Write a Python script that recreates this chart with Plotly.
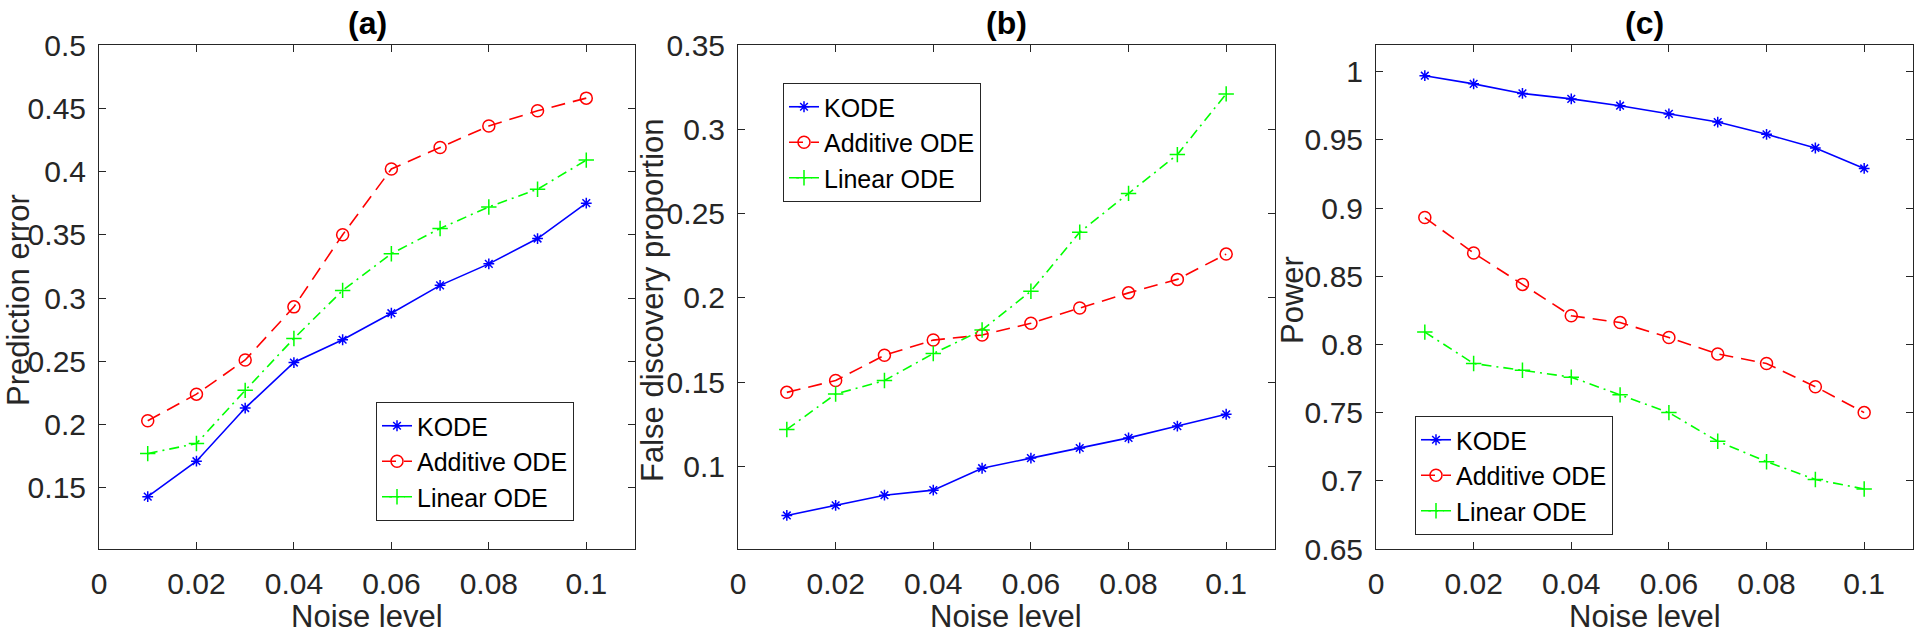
import plotly.graph_objects as go

noise = [0.01, 0.02, 0.03, 0.04, 0.05, 0.06, 0.07, 0.08, 0.09, 0.10]
series_names = ["KODE", "Additive ODE", "Linear ODE"]

# (a) Prediction error
pe_kode = [0.143, 0.171, 0.213, 0.249, 0.267, 0.288, 0.310, 0.327, 0.347, 0.375]
pe_add = [0.203, 0.224, 0.251, 0.293, 0.350, 0.402, 0.419, 0.436, 0.448, 0.458]
pe_lin = [0.177, 0.185, 0.227, 0.268, 0.306, 0.335, 0.355, 0.372, 0.386, 0.409]

# (b) False discovery proportion
fdp_kode = [0.071, 0.077, 0.083, 0.086, 0.099, 0.105, 0.111, 0.117, 0.124, 0.131]
fdp_add = [0.144, 0.151, 0.166, 0.175, 0.178, 0.185, 0.194, 0.203, 0.211, 0.226]
fdp_lin = [0.122, 0.143, 0.151, 0.167, 0.181, 0.204, 0.239, 0.262, 0.285, 0.321]

# (c) Power
pw_kode = [0.997, 0.991, 0.984, 0.980, 0.975, 0.969, 0.963, 0.954, 0.944, 0.929]
pw_add = [0.893, 0.867, 0.844, 0.821, 0.816, 0.805, 0.793, 0.786, 0.769, 0.750]
pw_lin = [0.809, 0.786, 0.781, 0.776, 0.763, 0.750, 0.729, 0.714, 0.701, 0.694]

x_ticks = [0, 0.02, 0.04, 0.06, 0.08, 0.1]
x_ticktext = ["0", "0.02", "0.04", "0.06", "0.08", "0.1"]
ya_ticks = [0.15, 0.2, 0.25, 0.3, 0.35, 0.4, 0.45, 0.5]
ya_text = ["0.15", "0.2", "0.25", "0.3", "0.35", "0.4", "0.45", "0.5"]
yb_ticks = [0.1, 0.15, 0.2, 0.25, 0.3, 0.35]
yb_text = ["0.1", "0.15", "0.2", "0.25", "0.3", "0.35"]
yc_ticks = [0.65, 0.7, 0.75, 0.8, 0.85, 0.9, 0.95, 1.0]
yc_text = ["0.65", "0.7", "0.75", "0.8", "0.85", "0.9", "0.95", "1"]

titles = ["(a)", "(b)", "(c)"]
ytitles = ["Prediction error", "False discovery proportion", "Power"]
xtitle = "Noise level"

W, H = 1920, 636
FONT = "Liberation Sans, Arial, Helvetica, sans-serif"
TXT = "#262626"

colors = ["#0000ff", "#ff0000", "#00ff00"]
dashes = ["solid", "14px,8px", "10px,5px,2px,5px"]
symbols = ["asterisk-open", "circle-open", "cross-thin-open"]
msizes = [9, 12, 11]

panels = [
    (pe_kode, pe_add, pe_lin),
    (fdp_kode, fdp_add, fdp_lin),
    (pw_kode, pw_add, pw_lin),
]

xdomains = [(99, 635), (738, 1275), (1376, 1913)]
ytop, ybot = 45, 549
yranges = [[0.1016, 0.5], [0.0511, 0.35], [0.65, 1.0195]]
yticks = [(ya_ticks, ya_text), (yb_ticks, yb_text), (yc_ticks, yc_text)]
legend_pos = [(376, 402), (783, 83), (1415, 416)]
ytitle_x = [18, 652, 1292]

fig = go.Figure()
for p, data in enumerate(panels):
    xa = "x" if p == 0 else f"x{p+1}"
    ya = "y" if p == 0 else f"y{p+1}"
    lg = "legend" if p == 0 else f"legend{p+1}"
    for s in range(3):
        fig.add_trace(go.Scatter(
            x=noise, y=data[s], name=series_names[s], mode="lines+markers",
            xaxis=xa, yaxis=ya, legend=lg,
            line=dict(color=colors[s], width=1.6, dash=dashes[s]),
            marker=dict(symbol=symbols[s], size=msizes[s], color=colors[s],
                        line=dict(color=colors[s], width=1.5)),
        ))

layout = dict(width=W, height=H, margin=dict(l=0, r=0, t=0, b=0, autoexpand=False),
              paper_bgcolor="white", plot_bgcolor="white", autosize=False,
              font=dict(family=FONT, color=TXT, size=30))

axis_common = dict(showline=True, linecolor=TXT, linewidth=1, mirror="ticks",
                   ticks="inside", ticklen=7, tickwidth=1, tickcolor=TXT,
                   showgrid=False, zeroline=False, automargin=False,
                   tickfont=dict(family=FONT, size=30, color=TXT))

annotations = []
for p in range(3):
    sx = "" if p == 0 else str(p + 1)
    x0, x1 = xdomains[p]
    layout[f"xaxis{sx}"] = dict(
        axis_common, domain=[x0 / W, x1 / W], range=[0, 0.11],
        tickvals=x_ticks, ticktext=x_ticktext, anchor=f"y{sx}",
        ticklabelstandoff=8,
    )
    layout[f"yaxis{sx}"] = dict(
        axis_common, domain=[1 - ybot / H, 1 - ytop / H], range=yranges[p],
        tickvals=yticks[p][0], ticktext=yticks[p][1], anchor=f"x{sx}",
        ticklabelstandoff=6,
    )
    lx, ly = legend_pos[p]
    layout["legend" if p == 0 else f"legend{p+1}"] = dict(
        x=lx / W, y=1 - ly / H, xanchor="left", yanchor="top",
        bgcolor="white", bordercolor=TXT, borderwidth=1,
        font=dict(family=FONT, size=25, color="black"),
        tracegroupgap=0, itemwidth=30,
    )
    annotations.append(dict(
        text=f"<b>{titles[p]}</b>", x=(x0 + x1) / 2 / W, y=1 - 23 / H,
        xref="paper", yref="paper", showarrow=False, xanchor="center", yanchor="middle",
        font=dict(family=FONT, size=32, color="black"),
    ))
    annotations.append(dict(
        text=xtitle, x=(x0 + x1) / 2 / W, y=0,
        xref="paper", yref="paper", showarrow=False, xanchor="center", yanchor="bottom",
        font=dict(family=FONT, size=31, color=TXT),
    ))
    annotations.append(dict(
        text=ytitles[p], x=ytitle_x[p] / W, y=1 - 300 / H, textangle=-90,
        xref="paper", yref="paper", showarrow=False, xanchor="center", yanchor="middle",
        font=dict(family=FONT, size=31, color=TXT),
    ))
layout["annotations"] = annotations
fig.update_layout(**layout)
fig.write_html("out.html", config={"displayModeBar": False},
               post_script="document.body.style.margin='0';document.body.style.overflow='hidden';")
